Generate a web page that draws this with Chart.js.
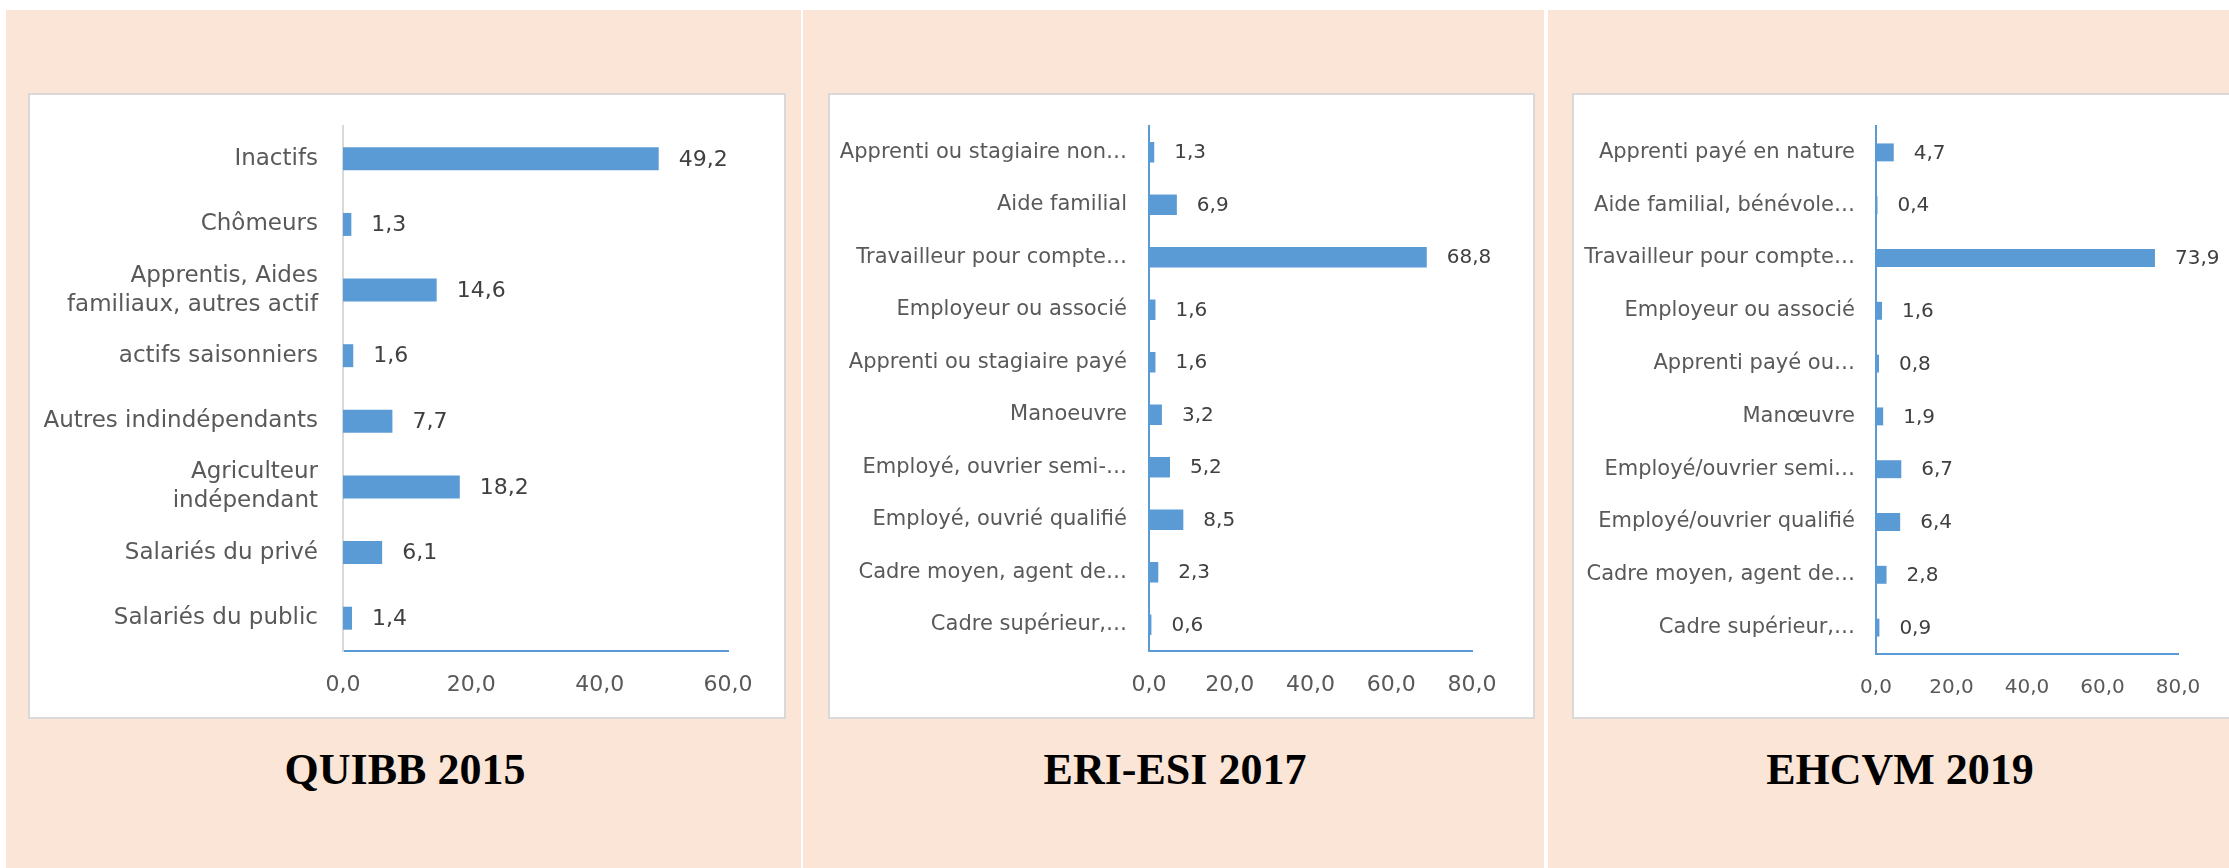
<!DOCTYPE html>
<html lang="fr">
<head>
<meta charset="utf-8">
<script src="https://cdn.jsdelivr.net/npm/chart.js@4.4.0/dist/chart.umd.min.js"></script>
<style>
  body { margin: 0; width: 2229px; height: 868px; background: #fff; position: relative; overflow: hidden; }
  .panel { position: absolute; top: 10px; height: 858px; background: #FBE5D6; }
  .box { position: absolute; top: 93px; height: 626px; background: #fff; border: 2px solid #D9D9D9; box-sizing: border-box; }
  canvas { position: absolute; top: 95px; }
  .title { position: absolute; top: 748px; font: bold 44px "Liberation Serif", "Times New Roman", serif; line-height: 44px; color: #000; transform: translateX(-50%); white-space: nowrap; }
</style>
</head>
<body>
<div class="panel" style="left:6px;width:795px"></div>
<div class="panel" style="left:803px;width:741px"></div>
<div class="panel" style="left:1548px;width:681px"></div>

<div class="box" style="left:28px;width:758px"></div>
<div class="box" style="left:828px;width:707px"></div>
<div class="box" style="left:1572px;width:680px"></div>

<canvas id="quibb" width="754" height="622" style="left:30px"></canvas>
<canvas id="eri" width="703" height="622" style="left:830px"></canvas>
<canvas id="ehcvm" width="655" height="622" style="left:1574px"></canvas>

<div class="title" style="left:405px">QUIBB 2015</div>
<div class="title" style="left:1175px">ERI-ESI 2017</div>
<div class="title" style="left:1900px">EHCVM 2019</div>

<script>
// QUIBB 2015
const quibbLabels = [
  "Inactifs",
  "Chômeurs",
  ["Apprentis, Aides", "familiaux, autres actif"],
  "actifs saisonniers",
  "Autres indindépendants",
  ["Agriculteur", "indépendant"],
  "Salariés du privé",
  "Salariés du public",
];
const quibbValues = [49.2, 1.3, 14.6, 1.6, 7.7, 18.2, 6.1, 1.4];
const quibbTicks = [0, 20, 40, 60];

// ERI-ESI 2017
const eriLabels = [
  "Apprenti ou stagiaire non…",
  "Aide familial",
  "Travailleur pour compte…",
  "Employeur ou associé",
  "Apprenti ou stagiaire payé",
  "Manoeuvre",
  "Employé, ouvrier semi-…",
  "Employé, ouvrié qualifié",
  "Cadre moyen, agent de…",
  "Cadre supérieur,…",
];
const eriValues = [1.3, 6.9, 68.8, 1.6, 1.6, 3.2, 5.2, 8.5, 2.3, 0.6];
const eriTicks = [0, 20, 40, 60, 80];

// EHCVM 2019
const ehcvmLabels = [
  "Apprenti payé en nature",
  "Aide familial, bénévole…",
  "Travailleur pour compte…",
  "Employeur ou associé",
  "Apprenti payé ou…",
  "Manœuvre",
  "Employé/ouvrier semi…",
  "Employé/ouvrier qualifié",
  "Cadre moyen, agent de…",
  "Cadre supérieur,…",
];
const ehcvmValues = [4.7, 0.4, 73.9, 1.6, 0.8, 1.9, 6.7, 6.4, 2.8, 0.9];
const ehcvmTicks = [0, 20, 40, 60, 80];

const blue = "#5B9BD5";
const fmt = (v) => Number(v).toFixed(1).replace(".", ",");

// value next to each bar
const valueLabels = {
  id: "valueLabels",
  afterDatasetsDraw(chart, args, opts) {
    const ctx = chart.ctx;
    const meta = chart.getDatasetMeta(0);
    const data = chart.data.datasets[0].data;
    ctx.save();
    ctx.font = opts.size + 'px "DejaVu Sans"';
    ctx.fillStyle = "#404040";
    ctx.textAlign = "left";
    ctx.textBaseline = "middle";
    meta.data.forEach((bar, i) => {
      ctx.fillText(fmt(data[i]), bar.x + 20, bar.y + 1);
    });
    ctx.restore();
  },
};

function drawPanel(id, labels, values, ticks, s) {
  new Chart(document.getElementById(id), {
    type: "bar",
    data: {
      labels: labels,
      datasets: [
        {
          data: values,
          backgroundColor: blue,
          barPercentage: s.bar,
          categoryPercentage: 1,
        },
      ],
    },
    options: {
      indexAxis: "y",
      responsive: false,
      animation: false,
      devicePixelRatio: 1,
      layout: { padding: { top: s.top, right: s.right, bottom: 0, left: 0 } },
      plugins: {
        legend: { display: false },
        tooltip: { enabled: false },
        valueLabels: { size: s.valueSize },
      },
      scales: {
        x: {
          min: ticks[0],
          max: ticks[ticks.length - 1],
          grid: { display: false, drawTicks: false },
          border: { color: blue, width: 2 },
          ticks: {
            stepSize: ticks[1] - ticks[0],
            padding: s.tickPad,
            color: "#595959",
            font: { family: "DejaVu Sans", size: s.tickSize },
            callback: (v) => fmt(v),
          },
          afterFit: (sc) => { sc.height = s.xHeight; },
        },
        y: {
          grid: { display: false, drawTicks: false },
          border: { color: s.yColor, width: 2 },
          ticks: {
            autoSkip: false,
            padding: s.labelPad,
            color: "#595959",
            font: { family: "DejaVu Sans", size: s.catSize, lineHeight: 1.26 },
          },
          afterFit: (sc) => {
            sc.width = s.yWidth;
            sc.paddingTop = 0;
            sc.paddingBottom = 0;
          },
        },
      },
    },
    plugins: [valueLabels],
  });
}

drawPanel("quibb", quibbLabels, quibbValues, quibbTicks, {
  bar: 0.35, top: 31, right: 56, yWidth: 313, xHeight: 66, tickPad: 21, labelPad: 25,
  tickSize: 22, catSize: 23, valueSize: 22, yColor: "#D9D9D9",
});
drawPanel("eri", eriLabels, eriValues, eriTicks, {
  bar: 0.39, top: 31, right: 61, yWidth: 319, xHeight: 66, tickPad: 21, labelPad: 22,
  tickSize: 22, catSize: 21, valueSize: 20, yColor: blue,
});
drawPanel("ehcvm", ehcvmLabels, ehcvmValues, ehcvmTicks, {
  bar: 0.34, top: 31, right: 51, yWidth: 302, xHeight: 63, tickPad: 22, labelPad: 21,
  tickSize: 20, catSize: 21, valueSize: 20, yColor: blue,
});
</script>
</body>
</html>
